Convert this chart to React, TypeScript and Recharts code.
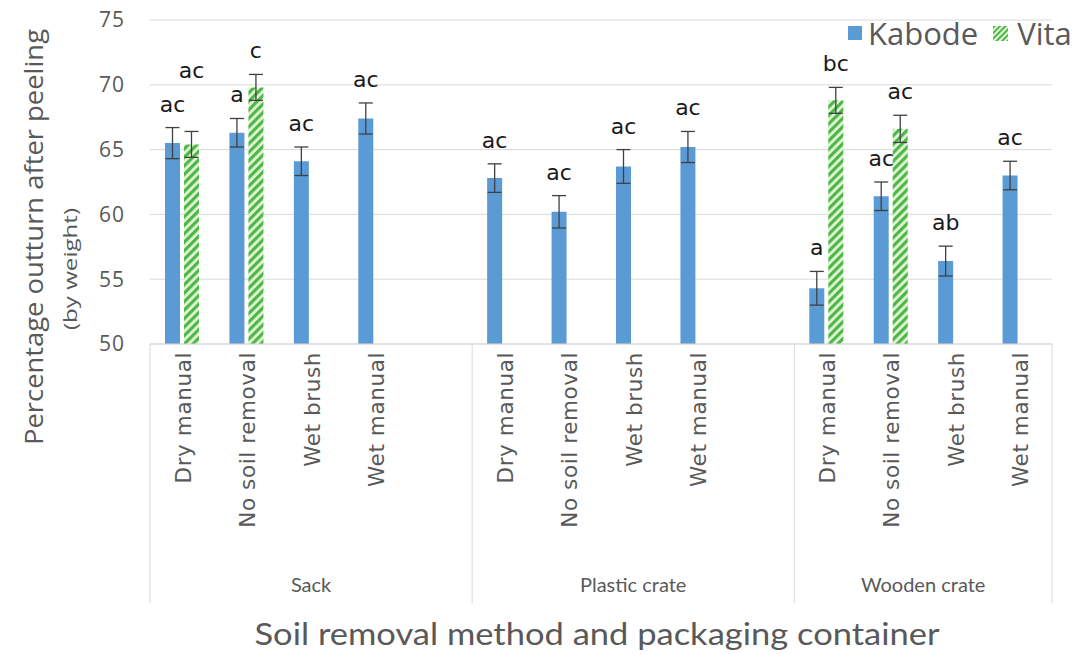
import React from 'react';
import { BarChart, Bar, XAxis, YAxis, CartesianGrid, ErrorBar, LabelList } from 'recharts';

// ---- data ----
const containers = ['Sack', 'Plastic crate', 'Wooden crate'];
const methods = ['Dry manual', 'No soil removal', 'Wet brush', 'Wet manual'];
const kabodeMean = [65.5, 66.3, 64.1, 67.4, 62.8, 60.2, 63.7, 65.2, 54.3, 61.4, 56.4, 63.0];
const kabodeErr = [1.2, 1.1, 1.1, 1.2, 1.1, 1.25, 1.3, 1.2, 1.3, 1.1, 1.15, 1.1];
const vitaMean = [65.4, 69.8, null, null, null, null, null, null, 68.8, 66.6, null, null];
const vitaErr = [1.0, 1.0, null, null, null, null, null, null, 1.0, 1.05, null, null];
const kabodeLetters = ['ac', 'a', 'ac', 'ac', 'ac', 'ac', 'ac', 'ac', 'a', 'ac', 'ab', 'ac'];
const vitaLetters = ['ac', 'c', '', '', '', '', '', '', 'bc', 'ac', '', ''];
const yTicks = [50, 55, 60, 65, 70, 75];
const Y_MIN = 50;
const Y_MAX = 75;

type Row = {
  key: string;
  method: string;
  container: string;
  groupStart: boolean;
  groupSlots: number;
  blank: boolean;
  last: boolean;
  kabode: number | null;
  kErr: number | null;
  vita: number | null;
  vErr: number | null;
  kL: string;
  vL: string;
};

const rows: Row[] = [];
containers.forEach((c, ci) => {
  const hasBlank = ci < containers.length - 1;
  methods.forEach((m, mi) => {
    const i = ci * methods.length + mi;
    rows.push({
      key: `${ci}-${mi}`,
      method: m,
      container: c,
      groupStart: mi === 0,
      groupSlots: methods.length + (hasBlank ? 1 : 0),
      blank: false,
      last: !hasBlank && mi === methods.length - 1,
      kabode: kabodeMean[i],
      kErr: kabodeErr[i],
      vita: vitaMean[i],
      vErr: vitaErr[i],
      kL: kabodeLetters[i],
      vL: vitaLetters[i],
    });
  });
  if (hasBlank) {
    rows.push({
      key: `${ci}-blank`, method: '', container: c, groupStart: false, groupSlots: 0, blank: true, last: false,
      kabode: null, kErr: null, vita: null, vErr: null, kL: '', vL: '',
    });
  }
});
const rowByKey: Record<string, Row> = {};
rows.forEach((r) => { rowByKey[r.key] = r; });

const GRAY = '#595959';
const KABODE = '#5B9BD5';
const LINE = '#D9D9D9';

const XTick = (props: any) => {
  const { x, y, payload } = props;
  const row = rowByKey[payload.value];
  const half = payload.offset || 32.2;
  if (!row) return null;
  const sepBottom = y + 259;
  return (
    <g>
      {row.groupStart && (
        <line x1={x - half} y1={y} x2={x - half} y2={sepBottom} stroke={LINE} strokeWidth={1} />
      )}
      {row.last && (
        <line x1={x + half} y1={y} x2={x + half} y2={sepBottom} stroke={LINE} strokeWidth={1} />
      )}
      {!row.blank && (
        <text
          transform={`translate(${x + 1},${y + 8}) rotate(-90)`}
          textAnchor="end"
          dy="0.35em"
          fontSize={21.5}
          letterSpacing={0.6}
          fontFamily="DejaVu Sans"
          fill={GRAY}
        >
          {row.method}
        </text>
      )}
      {row.groupStart && (
        <text
          x={x - half + row.groupSlots * half}
          y={y + 248}
          textAnchor="middle"
          fontSize={20}
          fontFamily="Lato"
          fill={GRAY}
        >
          {row.container}
        </text>
      )}
    </g>
  );
};

const LABEL_GAP = 16;

const letterText = (cx: number, base: number, txt: string) => (
  <text x={cx} y={base} textAnchor="middle" fontSize={22} fontFamily="DejaVu Sans" fill="#1a1a1a">
    {txt}
  </text>
);

const KabodeLabel = (props: any) => {
  const { x, y, width, height, value } = props;
  const row = rowByKey[value];
  if (!row || row.kabode == null || !row.kL) return null;
  const ppu = height / (row.kabode - Y_MIN);
  const bottom = y + height;
  const top = bottom - (row.kabode + (row.kErr || 0) - Y_MIN) * ppu;
  return letterText(x + width / 2, top - LABEL_GAP, row.kL);
};

const VitaLabel = (props: any) => {
  const { x, y, width, height, value } = props;
  const row = rowByKey[value];
  if (!row || row.vita == null || !row.vL) return null;
  const ppu = height / (row.vita - Y_MIN);
  const bottom = y + height;
  const top = bottom - (row.vita + (row.vErr || 0) - Y_MIN) * ppu;
  let base = top - LABEL_GAP;
  if (row.kabode != null) {
    const kTop = bottom - (row.kabode + (row.kErr || 0) - Y_MIN) * ppu;
    const kBase = kTop - LABEL_GAP;
    if (Math.abs(base - kBase) < 24) base = kBase - 34;
  }
  return letterText(x + width / 2, base, row.vL);
};

export default function App() {
  return (
    <div style={{ position: 'absolute', left: 0, top: 0, width: 1091, height: 654, overflow: 'hidden', background: '#fff' }}>
      <BarChart
        width={1091}
        height={654}
        data={rows}
        margin={{ top: 20, right: 39, left: 0, bottom: 0 }}
        barSize={15}
        barGap={4}
        barCategoryGap={0}
      >
        <defs>
          <pattern id="vitaHatch" width="6" height="6" patternUnits="userSpaceOnUse" patternTransform="rotate(45)">
            <rect width="6" height="6" fill="#E3F4D7" />
            <rect width="3.2" height="6" fill="#4DB848" />
          </pattern>
        </defs>
        <CartesianGrid vertical={false} stroke={LINE} strokeWidth={1} />
        <XAxis
          dataKey="key"
          interval={0}
          height={310}
          tickLine={false}
          tickSize={0}
          tickMargin={0}
          axisLine={{ stroke: LINE }}
          tick={<XTick />}
        />
        <YAxis
          width={150}
          domain={[Y_MIN, Y_MAX]}
          ticks={yTicks}
          interval={0}
          axisLine={false}
          tickLine={false}
          tickSize={0}
          tickMargin={25}
          tick={{ fill: GRAY, fontSize: 21, fontFamily: 'Open Sans', letterSpacing: 1 }}
        />
        <Bar dataKey="kabode" fill={KABODE} isAnimationActive={false}>
          <ErrorBar dataKey="kErr" width={7} stroke="#404040" strokeWidth={1.3} direction="y" />
          <LabelList dataKey="key" content={<KabodeLabel />} />
        </Bar>
        <Bar dataKey="vita" fill="url(#vitaHatch)" isAnimationActive={false}>
          <ErrorBar dataKey="vErr" width={7} stroke="#404040" strokeWidth={1.3} direction="y" />
          <LabelList dataKey="key" content={<VitaLabel />} />
        </Bar>
        <text
          transform="translate(33,237) rotate(-90)"
          textAnchor="middle"
          dominantBaseline="central"
          fontSize={26}
          fontFamily="Open Sans"
          fill={GRAY}
          textLength={416}
          lengthAdjust="spacingAndGlyphs"
        >
          Percentage outturn after peeling
        </text>
        <text
          transform="translate(70,269) rotate(-90)"
          textAnchor="middle"
          dominantBaseline="central"
          fontSize={19}
          fontFamily="Open Sans"
          fill={GRAY}
          textLength={122}
          lengthAdjust="spacingAndGlyphs"
        >
          (by weight)
        </text>
        <text
          x={597}
          y={633}
          textAnchor="middle"
          dominantBaseline="central"
          fontSize={31}
          fontFamily="Lato"
          fill={GRAY}
          textLength={685}
          lengthAdjust="spacingAndGlyphs"
        >
          Soil removal method and packaging container
        </text>
      </BarChart>
      <div
        style={{
          position: 'absolute',
          left: 848,
          top: 14,
          display: 'flex',
          alignItems: 'center',
          whiteSpace: 'nowrap',
          fontFamily: 'Open Sans',
          fontSize: 31,
          color: GRAY,
          lineHeight: '38px',
        }}
      >
        <span style={{ display: 'inline-block', width: 14, height: 14, background: KABODE, marginRight: 6 }} />
        <span style={{ marginRight: 15 }}>Kabode</span>
        <svg width={15} height={15} style={{ marginRight: 9 }}>
          <defs>
            <pattern id="vitaHatchLeg" width="4" height="4" patternUnits="userSpaceOnUse" patternTransform="rotate(45)">
              <rect width="4" height="4" fill="#E3F4D7" />
              <rect width="2" height="4" fill="#4DB848" />
            </pattern>
          </defs>
          <rect width={15} height={15} fill="url(#vitaHatchLeg)" />
        </svg>
        <span>Vita</span>
      </div>
    </div>
  );
}
